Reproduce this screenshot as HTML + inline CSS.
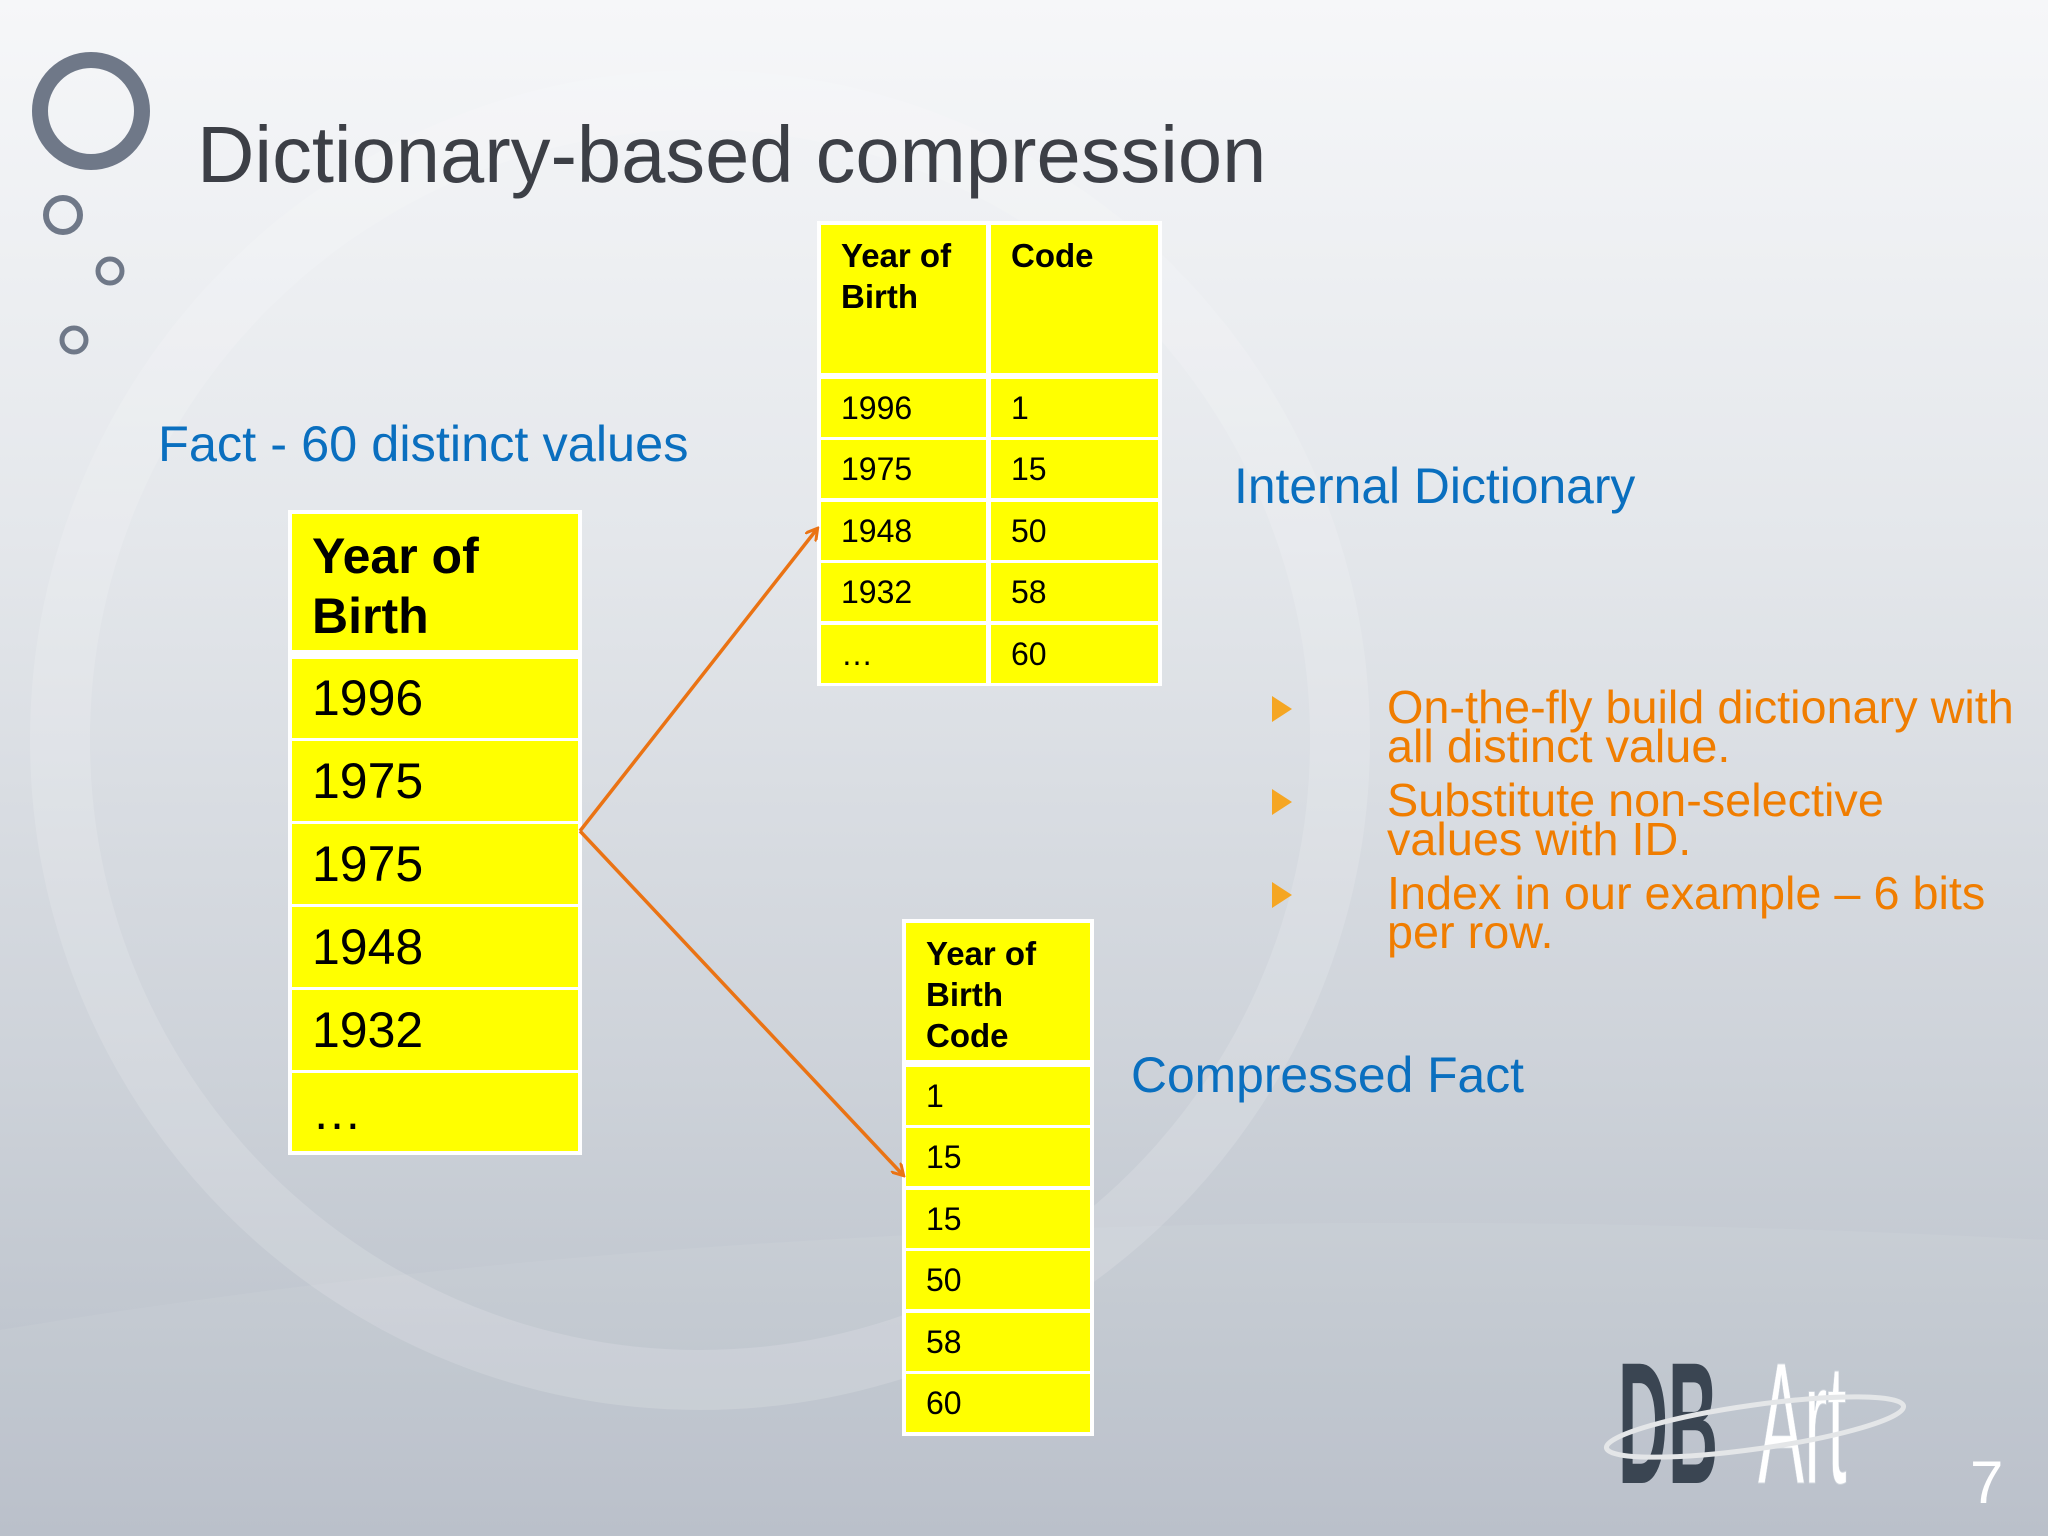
<!DOCTYPE html>
<html><head><meta charset="utf-8"><style>
html,body{margin:0;padding:0}
body{width:2048px;height:1536px;position:relative;overflow:hidden;font-family:"Liberation Sans",Arial,sans-serif;
background:linear-gradient(180deg,#f6f7f9 0%,#e4e7eb 35%,#cdd2d9 70%,#b6bdc7 100%);}
.a{position:absolute}
.cell{position:absolute;background:#ffff00;color:#000;box-sizing:border-box;}
.blue{color:#0a6fbf}
.or{color:#f07d00}
</style></head><body>
<svg class="a" width="2048" height="1536" style="left:0;top:0">
<circle cx="700" cy="740" r="640" fill="none" stroke="#ffffff" stroke-opacity="0.15" stroke-width="60"/>
<path d="M0 1330 Q900 1180 2048 1240 L2048 1536 L0 1536Z" fill="#ffffff" fill-opacity="0.06"/>
</svg>
<svg class="a" width="200" height="380" style="left:0;top:0">
<circle cx="91" cy="111" r="51" fill="none" stroke="#6f7888" stroke-width="16"/>
<circle cx="63" cy="215" r="17" fill="none" stroke="#6f7888" stroke-width="6"/>
<circle cx="110" cy="271" r="12" fill="none" stroke="#6f7888" stroke-width="5"/>
<circle cx="74" cy="340" r="12" fill="none" stroke="#6f7888" stroke-width="5"/>
</svg>
<div class="a" style="left:197px;top:110px;font-size:79.5px;color:#3c3f46;line-height:90px;white-space:nowrap">Dictionary-based compression</div>
<div class="a blue" style="left:158px;top:416px;font-size:50.5px;line-height:56px;white-space:nowrap">Fact - 60 distinct values</div>
<div class="a blue" style="left:1234px;top:458px;font-size:49.8px;line-height:56px;white-space:nowrap">Internal Dictionary</div>
<div class="a blue" style="left:1131px;top:1047px;font-size:49.8px;line-height:56px;white-space:nowrap">Compressed Fact</div>

<div class="a" style="left:288px;top:510px;width:294px;height:645px;background:#fff"></div>
<div class="cell" style="left:292px;top:514px;width:286px;height:136px;font-weight:bold;font-size:50px;line-height:60px;padding:12px 0 0 20px">Year of<br>Birth</div>
<div class="cell" style="left:292px;top:659px;width:286px;height:79px;font-size:50px;line-height:79px;padding-left:20px">1996</div>
<div class="cell" style="left:292px;top:741px;width:286px;height:80px;font-size:50px;line-height:80px;padding-left:20px">1975</div>
<div class="cell" style="left:292px;top:824px;width:286px;height:80px;font-size:50px;line-height:80px;padding-left:20px">1975</div>
<div class="cell" style="left:292px;top:907px;width:286px;height:80px;font-size:50px;line-height:80px;padding-left:20px">1948</div>
<div class="cell" style="left:292px;top:990px;width:286px;height:80px;font-size:50px;line-height:80px;padding-left:20px">1932</div>
<div class="cell" style="left:292px;top:1073px;width:286px;height:78px;font-size:50px;line-height:78px;padding-left:20px">…</div>

<div class="a" style="left:817px;top:221px;width:345px;height:465px;background:#fff"></div>
<div class="cell" style="left:821px;top:225px;width:165px;height:148px;font-weight:bold;font-size:33px;line-height:41px;padding:10px 0 0 20px">Year of<br>Birth</div>
<div class="cell" style="left:991px;top:225px;width:167px;height:148px;font-weight:bold;font-size:33px;line-height:41px;padding:10px 0 0 20px">Code</div>
<div id="dict"></div>

<div class="a" style="left:902px;top:919px;width:192px;height:517px;background:#fff"></div>
<div class="cell" style="left:906px;top:923px;width:184px;height:137px;font-weight:bold;font-size:33px;line-height:41px;padding:10px 0 0 20px">Year of<br>Birth<br>Code</div>
<div id="comp"></div>

<svg class="a" width="2048" height="1536" style="left:0;top:0">
<defs><marker id="ah" markerWidth="14" markerHeight="14" refX="11" refY="7" orient="auto" markerUnits="userSpaceOnUse" viewBox="0 0 14 14"><path d="M0 0 L12 7 L0 14" fill="none" stroke="#ea7314" stroke-width="3"/></marker></defs>
<line x1="580" y1="831" x2="817" y2="529" stroke="#ea7314" stroke-width="3.5" marker-end="url(#ah)"/>
<line x1="580" y1="831" x2="903" y2="1175" stroke="#ea7314" stroke-width="3.5" marker-end="url(#ah)"/>
</svg>

<svg class="a" width="40" height="260" style="left:1268px;top:690px">
<polygon points="4,6 24,19 4,32" fill="#f5a623"/>
<polygon points="4,99 24,112 4,125" fill="#f5a623"/>
<polygon points="4,192 24,205 4,218" fill="#f5a623"/>
</svg>
<div class="a or" style="left:1387px;top:688px;font-size:46.8px;line-height:39px;white-space:nowrap">On-the-fly build dictionary with<br>all distinct value.</div>
<div class="a or" style="left:1387px;top:781px;font-size:46.8px;line-height:39px;white-space:nowrap">Substitute non-selective<br>values with ID.</div>
<div class="a or" style="left:1387px;top:874px;font-size:46.8px;line-height:39px;white-space:nowrap">Index in our example – 6 bits<br>per row.</div>

<svg class="a" width="340" height="150" style="left:1580px;top:1345px">
<text x="0" y="0" transform="translate(38,138) scale(0.42,1.05)" font-family="Liberation Sans" font-weight="bold" font-size="165" fill="#3a4552">DB</text>
<text x="0" y="0" transform="translate(178,138) scale(0.42,1.05)" font-family="Liberation Sans" font-size="165" fill="#ffffff" stroke="#cfd5dc" stroke-width="1">Art</text>
<ellipse cx="175" cy="82" rx="150" ry="22" transform="rotate(-8 175 82)" fill="none" stroke="#e4e6e8" stroke-width="5"/>
</svg>
<div class="a" style="left:1970px;top:1448px;font-size:60px;color:#fff;line-height:70px">7</div>

<script>
const dictYears=["1996","1975","1948","1932","…"];
const dictCodes=["1","15","50","58","60"];
const compCodes=["1","15","15","50","58","60"];
const d=document.getElementById('dict');
dictYears.forEach((y,i)=>{
  const top=379+i*61.4;
  const a=document.createElement('div');a.className='cell';
  
  
  a.style.cssText=`left:821px;top:${top}px;width:165px;height:58px;font-size:32px;line-height:58px;padding-left:20px`;
  a.textContent=y;d.appendChild(a);
  const b=document.createElement('div');b.className='cell';
  
  
  b.style.cssText=`left:991px;top:${top}px;width:167px;height:58px;font-size:32px;line-height:58px;padding-left:20px`;
  b.textContent=dictCodes[i];d.appendChild(b);
});
const c=document.getElementById('comp');
compCodes.forEach((v,i)=>{
  const top=1067+i*61.4;
  const a=document.createElement('div');a.className='cell';
  
  
  a.style.cssText=`left:906px;top:${top}px;width:184px;height:58px;font-size:32px;line-height:58px;padding-left:20px`;
  a.textContent=v;c.appendChild(a);
});
</script>
</body></html>
